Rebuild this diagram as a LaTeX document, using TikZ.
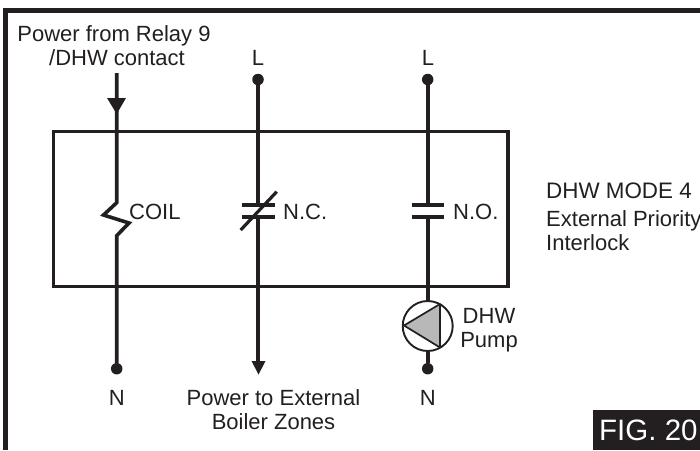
\documentclass[tikz,border=0pt]{standalone}
\usepackage{fontspec}
\setmainfont{Liberation Sans}
\definecolor{ink}{HTML}{231F20}
\tikzset{
  wire/.style={draw=ink,line width=3.6pt},
  plate/.style={draw=ink,line width=3.4pt},
  dot/.style={circle,fill=ink,inner sep=0pt,minimum size=11.5pt},
  lab/.style={text=ink,font=\fontsize{22}{23}\selectfont,inner sep=0pt,anchor=base},
  labl/.style={lab,anchor=base west}
}
\begin{document}
\begin{tikzpicture}[x=1pt,y=-1pt]
\useasboundingbox (0,0) rectangle (700,450);
\fill[white] (0,0) rectangle (700,450);
% frame
\draw[draw=ink,line width=5pt] (5,450) -- (5,10.8) -- (700,10.8);
% box
\node[draw=ink,line width=3.2pt,minimum width=454.7pt,minimum height=154.6pt,inner sep=0pt,outer sep=0pt] (relay) at (280.6,209) {};
% terminals
\node[dot] (l1) at (258,79.5) {};
\node[dot] (l2) at (427.7,79.5) {};
\node[dot] (n1) at (116.7,368.7) {};
\node[dot] (n2) at (427.7,368.7) {};
\coordinate (src) at (116.7,73);
\coordinate (c1t) at (116.7,202.7);
\coordinate (c1a) at (103.5,215);
\coordinate (c1b) at (129,223);
\coordinate (c1c) at (116.7,235.7);
\coordinate (ncT) at (258,205);
\coordinate (ncB) at (258,217);
\coordinate (out) at (258,362);
\coordinate (noT) at (427.7,205);
\coordinate (noB) at (427.7,217);
% pump
\node[circle,draw=ink,line width=1.9pt,minimum size=50pt,inner sep=0pt,outer sep=0pt,fill=white] (pump) at (427.7,326) {};
% wires
\draw[wire,line join=miter] (src) -- (c1t) -- (c1a) -- (c1b) -- (c1c) -- (n1);
\fill[ink] (107,98) -- (126,98) -- (116.7,114) -- cycle;
\draw[wire] (l1) -- (ncT);
\draw[wire] (ncB) -- (out);
\fill[ink] (251.5,361) -- (265.5,361) -- (258.5,374.5) -- cycle;
\draw[wire] (l2) -- (noT);
\draw[wire] (noB) -- (pump.north);
\draw[wire] (pump.south) -- (n2);
% contact plates
\draw[plate] (242.3,205) -- (275,205);
\draw[plate] (242.3,217) -- (275,217);
\draw[draw=ink,line width=3.2pt] (240.7,230) -- (276.7,191.7);
\draw[plate] (411.7,205) -- (444.3,205);
\draw[plate] (411.7,217) -- (444.3,217);
% pump triangle
\draw[draw=ink,line width=1.7pt,fill=black!28,line join=round] (404,325.5) -- (440,304) -- (440,347.5) -- cycle;
% labels
\node[lab] (t1) at (114,41.7) {Power from Relay 9};
\node[lab] (t2) at (117,65.7) {/DHW contact};
\node[lab] (tl1) at (258,65.5) {L};
\node[lab] (tl2) at (428,65.5) {L};
\node[labl] (coil) at (129,219) {COIL};
\node[labl] (nc) at (283,219) {N.C.};
\node[labl] (no) at (453,219) {N.O.};
\node[labl,font=\fontsize{22.4}{23}\selectfont] (m1) at (546,198) {DHW MODE 4};
\node[labl] (m2) at (546,226.7) {External Priority};
\node[labl] (m3) at (546,250) {Interlock};
\node[lab] (pt) at (489,323.3) {DHW};
\node[lab] (pb) at (489,347.7) {Pump};
\node[lab] (bn1) at (116.7,405) {N};
\node[lab] (bn2) at (427.7,405) {N};
\node[lab] (pz1) at (273.5,405) {Power to External};
\node[lab] (pz2) at (273.5,429) {Boiler Zones};
\fill[ink] (593.3,410) rectangle (700,450);
\node[text=white,font=\fontsize{29.5}{30}\selectfont,anchor=base west,inner sep=0pt] (fig) at (599,440) {FIG. 20};
\end{tikzpicture}
\end{document}
